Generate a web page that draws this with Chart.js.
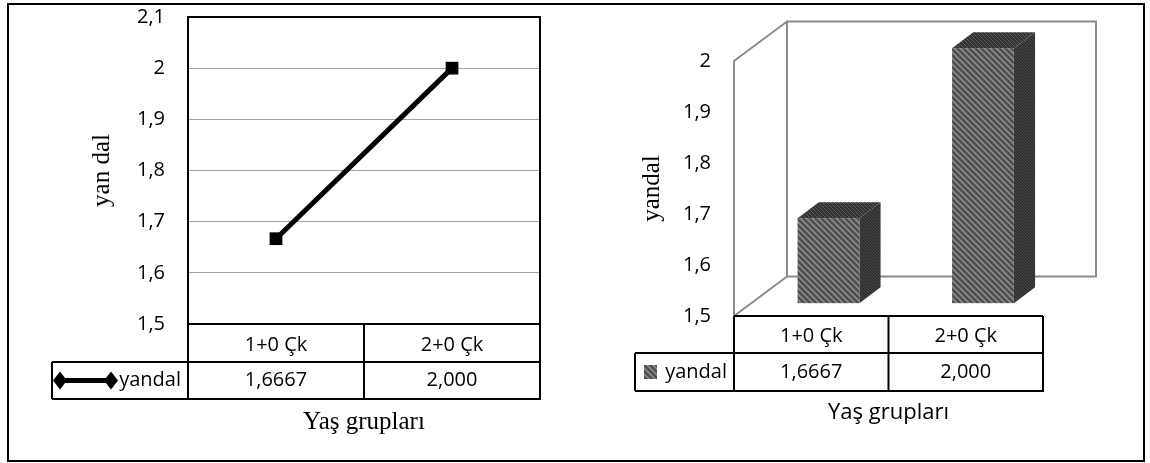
<!DOCTYPE html>
<html>
<head>
<meta charset="utf-8">
<script src="https://cdn.jsdelivr.net/npm/chart.js@4.4.1/dist/chart.umd.min.js"></script>
<style>
body{margin:0;background:#fff;}
#frame{position:absolute;left:7px;top:3px;width:1138px;height:459px;box-sizing:border-box;border:2px solid #000;}
canvas{position:absolute;left:0;top:0;}
</style>
</head>
<body>
<div id="frame"></div>
<canvas id="lineChart" width="1150" height="463"></canvas>
<canvas id="barChart" width="1150" height="463"></canvas>
<script>
// data
var groups = ["1+0 Çk", "2+0 Çk"];
var yandal = [1.6667, 2.0];
var tableText = ["1,6667", "2,000"];
var seriesName = "yandal";
var lineTicks = [1.5, 1.6, 1.7, 1.8, 1.9, 2.0, 2.1];
var barTicks = [1.5, 1.6, 1.7, 1.8, 1.9, 2.0];

Chart.defaults.font.family = "'Open Sans'";
Chart.defaults.font.size = 20;
Chart.defaults.color = "#000";

function fmt(v) { return String(+v.toFixed(1)).replace(".", ","); }

function hatch(bg, fg, size, w) {
  var c = document.createElement("canvas");
  c.width = c.height = size;
  var g = c.getContext("2d");
  g.fillStyle = bg; g.fillRect(0, 0, size, size);
  g.strokeStyle = fg; g.lineWidth = w;
  g.beginPath();
  g.moveTo(-1, -1); g.lineTo(size + 1, size + 1);
  g.moveTo(-1, size - 1); g.lineTo(1, size + 1);
  g.moveTo(size - 1, -1); g.lineTo(size + 1, 1);
  g.stroke();
  return g.createPattern(c, "repeat");
}
var frontFill = hatch("#4a4a4a", "#858585", 6, 2);
var topFill = hatch("#333333", "#5a5a5a", 4, 1);
var sideFill = hatch("#2e2e2e", "#4c4c4c", 3, 1);

// keep tick-label overflow from pushing the plot area
function noPad(s) { s.paddingTop = 0; s.paddingBottom = 0; }

// data table under each chart
function drawTable(chart, o) {
  var ctx = chart.ctx, a = chart.chartArea, x = chart.scales.x;
  var y0 = a.bottom, y1 = y0 + o.row1, y2 = y1 + o.row2;
  var mid = (x.getPixelForValue(0) + x.getPixelForValue(1)) / 2;
  ctx.save();
  ctx.strokeStyle = "#000";
  ctx.lineWidth = 2;
  ctx.beginPath();
  ctx.moveTo(a.left, y0); ctx.lineTo(a.right, y0);
  ctx.moveTo(o.legendLeft, y1); ctx.lineTo(a.right, y1);
  ctx.moveTo(o.legendLeft, y2); ctx.lineTo(a.right + 1, y2);
  ctx.moveTo(o.legendLeft, y1); ctx.lineTo(o.legendLeft, y2);
  ctx.moveTo(a.left, o.leftTop); ctx.lineTo(a.left, y2);
  ctx.moveTo(mid, y0); ctx.lineTo(mid, y2);
  ctx.moveTo(a.right, o.leftTop); ctx.lineTo(a.right, y2);
  if (o.boxTop) { ctx.moveTo(a.left - 1, a.top); ctx.lineTo(a.right + 1, a.top); }
  ctx.stroke();
  ctx.font = "20px 'Open Sans'";
  ctx.fillStyle = "#000";
  ctx.textAlign = "center";
  ctx.textBaseline = "middle";
  groups.forEach(function (g, i) {
    var px = x.getPixelForValue(i);
    ctx.fillText(g, px, (y0 + y1) / 2 + 2);
    ctx.fillText(tableText[i], px, (y1 + y2) / 2);
  });
  ctx.textAlign = "right";
  ctx.fillText(seriesName, a.left - 7, (y1 + y2) / 2);
  o.symbol(ctx, (y1 + y2) / 2);
  ctx.restore();
}

var lineTable = {
  id: "lineTable",
  afterDraw: function (chart) {
    drawTable(chart, {
      row1: 38, row2: 37, legendLeft: 52, leftTop: chart.chartArea.top, boxTop: true,
      symbol: function (ctx, cy) {
        ctx.strokeStyle = "#000"; ctx.lineWidth = 5;
        ctx.beginPath(); ctx.moveTo(60, cy); ctx.lineTo(111, cy); ctx.stroke();
        ctx.fillStyle = "#000";
        [60, 111].forEach(function (cx) {
          ctx.beginPath();
          ctx.moveTo(cx, cy - 9); ctx.lineTo(cx + 7, cy); ctx.lineTo(cx, cy + 9); ctx.lineTo(cx - 7, cy);
          ctx.closePath(); ctx.fill();
        });
      }
    });
  }
};

var barTable = {
  id: "barTable",
  afterDraw: function (chart) {
    drawTable(chart, {
      row1: 37, row2: 38, legendLeft: 635, leftTop: chart.chartArea.bottom, boxTop: false,
      symbol: function (ctx, cy) {
        ctx.fillStyle = frontFill;
        ctx.fillRect(644, cy - 7, 13, 14);
      }
    });
  }
};

// 3D walls and bars, positioned from the bar elements and the value scale
var depth3d = {
  id: "depth3d",
  beforeDatasetsDraw: function (chart) {
    var ctx = chart.ctx, a = chart.chartArea, ys = chart.scales.y;
    var dx = 53, dy = -39.5;
    ctx.save();
    ctx.strokeStyle = "#8c8c8c";
    ctx.lineWidth = 2;
    ctx.strokeRect(a.left + dx, a.top + dy, a.right - a.left, a.bottom - a.top);
    ctx.beginPath();
    ctx.moveTo(a.left + dx, a.top + dy); ctx.lineTo(a.left, a.top);
    ctx.lineTo(a.left, a.bottom); ctx.lineTo(a.left + dx, a.bottom + dy);
    ctx.stroke();
    var f = 0.325, d = 0.4;
    var basePx = ys.getPixelForValue(ys.min);
    chart.getDatasetMeta(0).data.forEach(function (bar) {
      var x0 = bar.x - bar.width / 2 + dx * f, x1 = bar.x + bar.width / 2 + dx * f;
      var yt = bar.y + dy * f, yb = basePx + dy * f;
      var ox = dx * d, oy = dy * d;
      ctx.fillStyle = sideFill;
      ctx.beginPath();
      ctx.moveTo(x1, yt); ctx.lineTo(x1 + ox, yt + oy); ctx.lineTo(x1 + ox, yb + oy); ctx.lineTo(x1, yb);
      ctx.closePath(); ctx.fill();
      ctx.fillStyle = topFill;
      ctx.beginPath();
      ctx.moveTo(x0, yt); ctx.lineTo(x0 + ox, yt + oy); ctx.lineTo(x1 + ox, yt + oy); ctx.lineTo(x1, yt);
      ctx.closePath(); ctx.fill();
      ctx.fillStyle = frontFill;
      ctx.fillRect(x0, yt, x1 - x0, yb - yt);
    });
    ctx.restore();
    return false;
  }
};

new Chart("lineChart", {
  type: "line",
  data: {
    labels: groups,
    datasets: [{
      label: seriesName,
      data: yandal,
      borderColor: "#000",
      borderWidth: 5,
      pointStyle: "rect",
      pointRadius: 9,
      pointBackgroundColor: "#000",
      pointBorderWidth: 0,
      tension: 0
    }]
  },
  options: {
    responsive: false,
    animation: false,
    events: [],
    layout: { padding: { left: 0, right: 610, top: 17, bottom: 0 } },
    plugins: { legend: { display: false }, tooltip: { enabled: false } },
    scales: {
      x: {
        offset: true,
        ticks: { display: false },
        grid: { display: false },
        border: { display: false },
        title: { display: true, text: "Yaş grupları", font: { family: "'Liberation Serif'", size: 25 }, padding: { top: 0, bottom: 26 } },
        afterFit: function (s) { s.height = 139; }
      },
      y: {
        min: 1.5,
        max: 2.1,
        afterBuildTicks: function (s) { s.ticks = lineTicks.map(function (v) { return { value: v }; }); },
        ticks: { padding: 23, callback: function (v) { return fmt(v); } },
        grid: {
          drawTicks: false,
          color: function (c) { return (c.tick && c.tick.value > 1.55 && c.tick.value < 2.05) ? "#a3a3a3" : "rgba(0,0,0,0)"; }
        },
        border: { display: false },
        title: { display: true, text: "yan dal", font: { family: "'Liberation Serif'", size: 25 }, padding: { top: 87, bottom: 0 } },
        afterFit: function (s) { s.width = 188; noPad(s); }
      }
    }
  },
  plugins: [lineTable]
});

new Chart("barChart", {
  type: "bar",
  data: {
    labels: groups,
    datasets: [{
      label: seriesName,
      data: yandal,
      backgroundColor: "rgba(0,0,0,0)",
      barPercentage: 0.5,
      categoryPercentage: 0.8
    }]
  },
  options: {
    responsive: false,
    animation: false,
    events: [],
    layout: { padding: { left: 600, right: 107, top: 61, bottom: 0 } },
    plugins: { legend: { display: false }, tooltip: { enabled: false } },
    scales: {
      x: {
        ticks: { display: false },
        grid: { display: false },
        border: { display: false },
        title: { display: true, text: "Yaş grupları", font: { size: 22 }, padding: { top: 0, bottom: 37 } },
        afterFit: function (s) { s.height = 147; }
      },
      y: {
        min: 1.5,
        max: 2.0,
        afterBuildTicks: function (s) { s.ticks = barTicks.map(function (v) { return { value: v }; }); },
        ticks: { padding: 23, callback: function (v) { return fmt(v); } },
        grid: { display: false, drawTicks: false },
        border: { display: false },
        title: { display: true, text: "yandal", font: { family: "'Liberation Serif'", size: 25 }, padding: { top: 37, bottom: 0 } },
        afterFit: function (s) { s.width = 134; noPad(s); }
      }
    }
  },
  plugins: [depth3d, barTable]
});
</script>
</body>
</html>
